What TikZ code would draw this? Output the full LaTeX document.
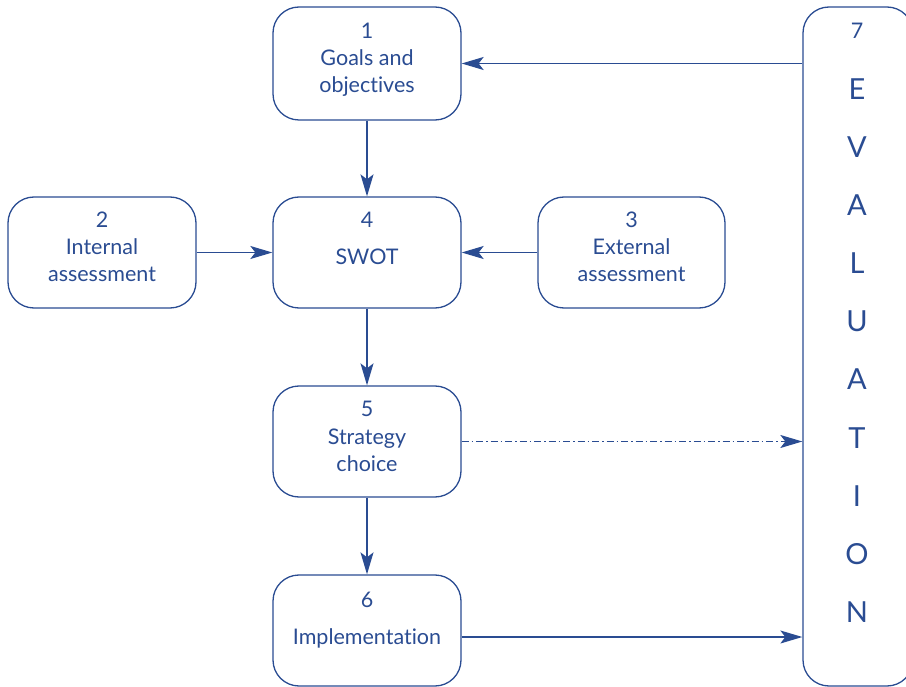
\documentclass[tikz,border=0pt]{standalone}
\usepackage{fontspec}
\setmainfont{Lato}[Ligatures=NoCommon]
\usetikzlibrary{arrows.meta}
\definecolor{navy}{RGB}{42,76,146}
\tikzset{
  box/.style={draw=navy, line width=1.3pt, rounded corners=26pt, text=navy,
    align=center, inner sep=0pt},
  link/.style={draw=navy, line width=1.3pt,
    -{Stealth[length=22pt,width=13pt,inset=5pt]}},
  lbl/.style={text=navy, font=\fontsize{21.5}{27}\selectfont, anchor=base},
  evl/.style={text=navy, font=\fontsize{29}{29}\selectfont, anchor=base},
}
\begin{document}
\begin{tikzpicture}[x=1pt,y=-1pt]
\useasboundingbox (0,0) rectangle (906,687);
\clip (0,0) rectangle (906,687);
% boxes
\node[box, minimum width=188pt, minimum height=113pt] (g) at (367,63.5) {};
\node[box, minimum width=188pt, minimum height=111pt] (i) at (102,252.5) {};
\node[box, minimum width=188pt, minimum height=111pt] (s) at (367,252.5) {};
\node[box, minimum width=187pt, minimum height=111pt] (x) at (631.5,252.5) {};
\node[box, minimum width=188pt, minimum height=111pt] (c) at (367,441.5) {};
\node[box, minimum width=188pt, minimum height=111pt] (m) at (367,630.5) {};
\node[box, minimum width=110pt, minimum height=679pt] (e) at (858,346.5) {};
% texts
\node[lbl] (g1) at (367,39) {1};
\node[lbl] (g2) at (367,66) {Goals and};
\node[lbl] (g3) at (367,93) {objectives};
\node[lbl] (i1) at (102,228) {2};
\node[lbl] (i2) at (102,255) {Internal};
\node[lbl] (i3) at (102,282) {assessment};
\node[lbl] (s1) at (367,228) {4};
\node[lbl] (s2) at (367,265) {SWOT};
\node[lbl] (x1) at (631.5,228) {3};
\node[lbl] (x2) at (631.5,255) {External};
\node[lbl] (x3) at (631.5,282) {assessment};
\node[lbl] (c1) at (367,417) {5};
\node[lbl] (c2) at (367,444) {Strategy};
\node[lbl] (c3) at (367,471) {choice};
\node[lbl] (m1) at (367,607) {6};
\node[lbl] (m2) at (367,644) {Implementation};
\node[lbl] (e0) at (857,39) {7};
\foreach \ch [count=\k] in {E,V,A,L,U,A,T,I,O,N}
  \node[evl] (ev\k) at (857,100+58*\k-58) {\ch};
% connectors
\coordinate (eg) at (e.west |- g.east);
\coordinate (ec) at (e.west |- c.east);
\coordinate (me) at ([yshift=-6.5pt]m.east);
\coordinate (em) at (e.west |- me);
\draw[link] (eg) -- (g.east);
\draw[link] (g.south) -- (s.north);
\draw[link] (i.east) -- (s.west);
\draw[link] (x.west) -- (s.east);
\draw[link] (s.south) -- (c.north);
\draw[link] (c.south) -- (m.north);
\draw[link, dash pattern=on 7pt off 3pt on 1.5pt off 3pt] (c.east) -- (ec);
\draw[link] (me) -- (em);
\end{tikzpicture}
\end{document}
